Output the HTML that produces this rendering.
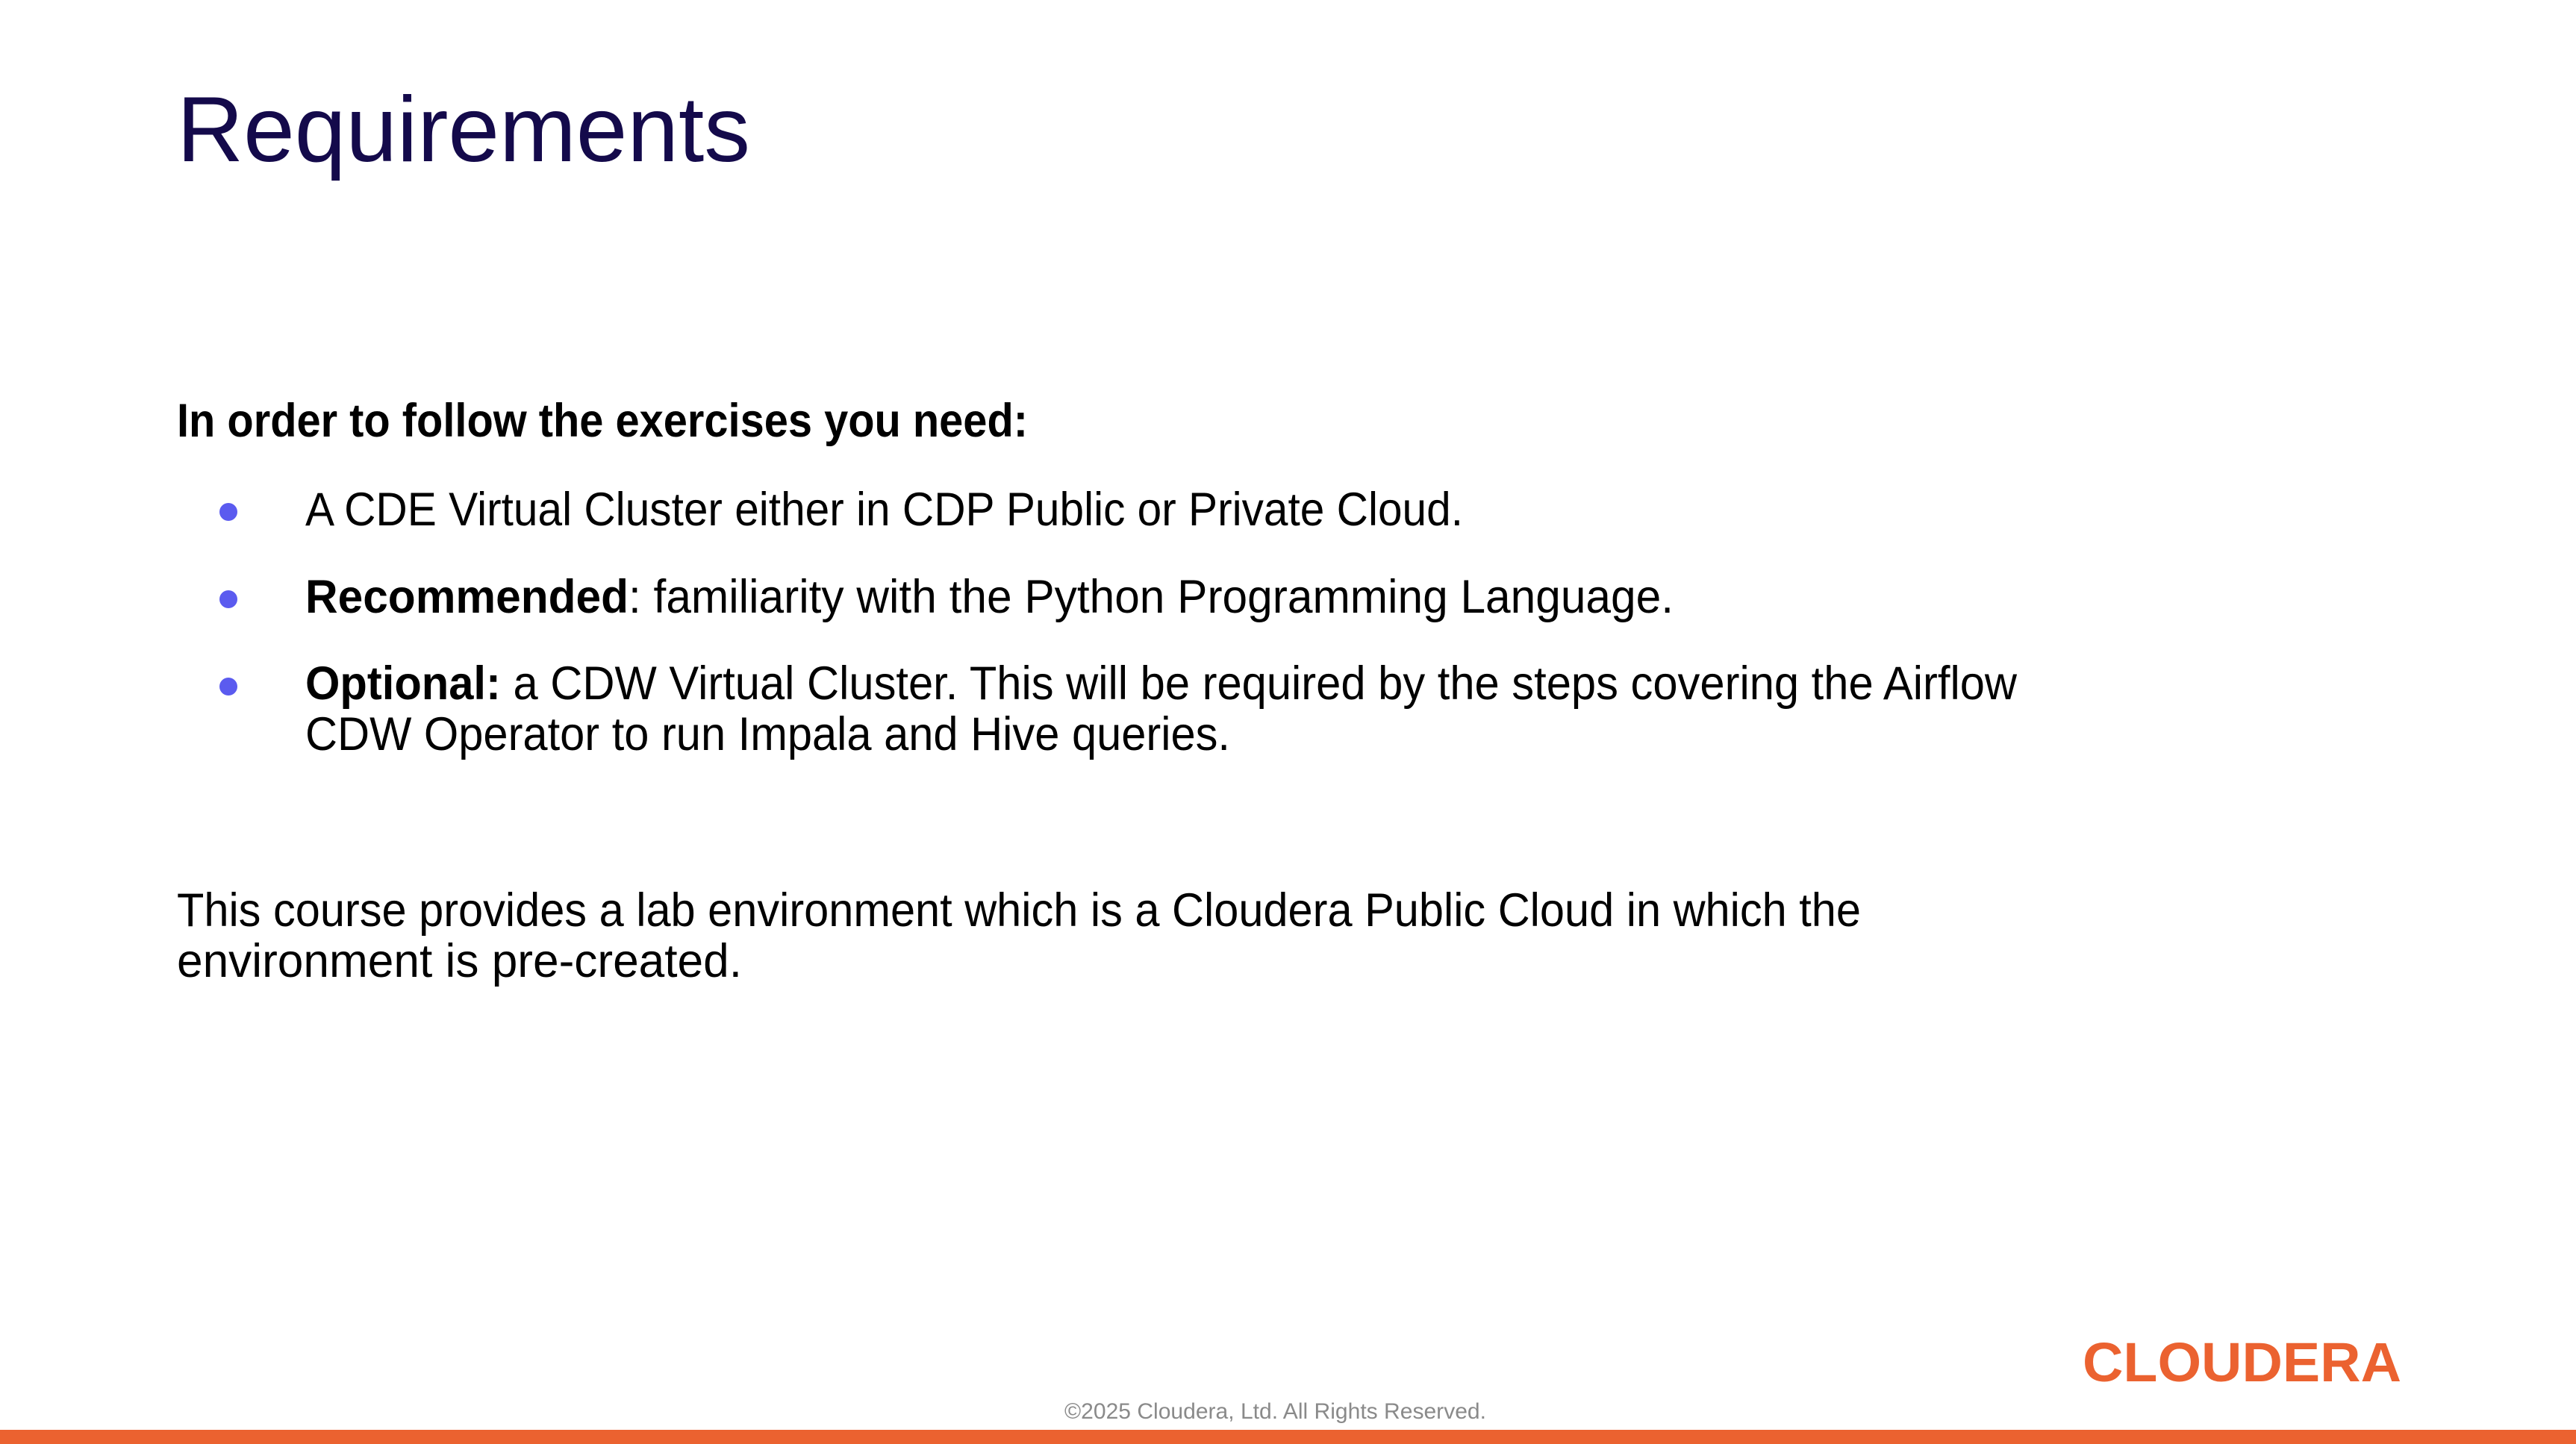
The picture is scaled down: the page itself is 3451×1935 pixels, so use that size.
<!DOCTYPE html>
<html><head><meta charset="utf-8"><style>
html,body{margin:0;padding:0;background:#fff;}
svg{display:block;}
text{font-family:"Liberation Sans",sans-serif;}
</style></head><body>
<svg width="3451" height="1935" viewBox="0 0 3451 1935" xmlns="http://www.w3.org/2000/svg">
<rect width="3451" height="1935" fill="#fff"/>
<text x="237" y="216" font-size="124" fill="#140A4B" textLength="768" lengthAdjust="spacingAndGlyphs">Requirements</text>
<text x="237" y="585" font-size="63" font-weight="bold" fill="#000" textLength="1140" lengthAdjust="spacingAndGlyphs">In order to follow the exercises you need:</text>
<circle cx="306" cy="686" r="12" fill="#5B5BEF"/>
<circle cx="306" cy="803" r="12" fill="#5B5BEF"/>
<circle cx="306" cy="920" r="12" fill="#5B5BEF"/>
<text x="409" y="704" font-size="63" fill="#000" textLength="1551" lengthAdjust="spacingAndGlyphs">A CDE Virtual Cluster either in CDP Public or Private Cloud.</text>
<text x="409" y="821" font-size="63" fill="#000" textLength="1833" lengthAdjust="spacingAndGlyphs"><tspan font-weight="bold">Recommended</tspan>: familiarity with the Python Programming Language.</text>
<text x="409" y="937" font-size="63" fill="#000" textLength="2293" lengthAdjust="spacingAndGlyphs"><tspan font-weight="bold">Optional:</tspan> a CDW Virtual Cluster. This will be required by the steps covering the Airflow</text>
<text x="409" y="1005" font-size="63" fill="#000" textLength="1239" lengthAdjust="spacingAndGlyphs">CDW Operator to run Impala and Hive queries.</text>
<text x="237" y="1241" font-size="63" fill="#000" textLength="2256" lengthAdjust="spacingAndGlyphs">This course provides a lab environment which is a Cloudera Public Cloud in which the</text>
<text x="237" y="1309" font-size="63" fill="#000" textLength="757" lengthAdjust="spacingAndGlyphs">environment is pre-created.</text>
<text x="2790" y="1851" font-size="74" font-weight="bold" fill="#EB6230" textLength="427" lengthAdjust="spacingAndGlyphs">CLOUDERA</text>
<text x="1426" y="1901" font-size="30" fill="#8a8a8a" textLength="565" lengthAdjust="spacingAndGlyphs">©2025 Cloudera, Ltd. All Rights Reserved.</text>
<rect x="0" y="1916" width="3451" height="19" fill="#EB6230"/>
</svg>
</body></html>
